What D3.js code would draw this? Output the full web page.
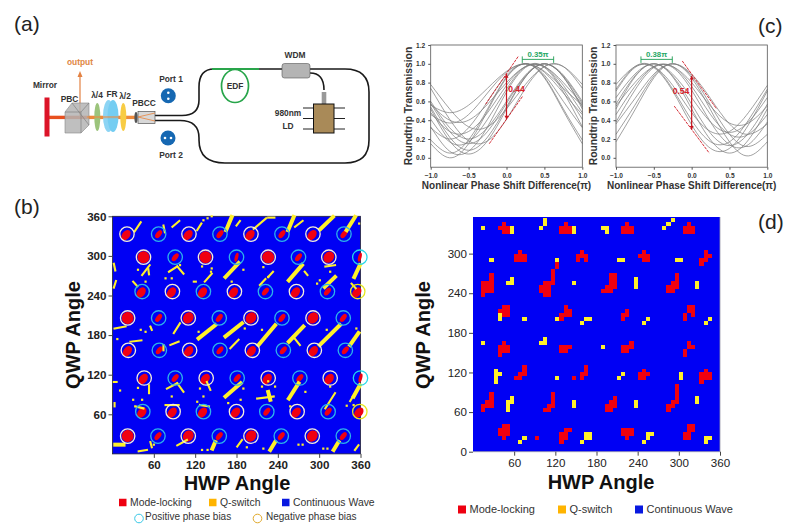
<!DOCTYPE html>
<html><head><meta charset="utf-8">
<script src="https://cdn.jsdelivr.net/npm/d3@7"></script>
<style>html,body{margin:0;padding:0;background:#fff}svg{display:block}text{font-family:"Liberation Sans",Arial,sans-serif}</style>
</head><body><div id="c"></div>
<script>
// ---- panel (c) curves: transmission read at these phase differences
const phaseSamples=[-1,-.75,-.5,-.25,0,.25,.5,.75,1];
const leftCurves=[
[.15,0,.15,.5,.85,1,.85,.5,.15],[.19,.05,.19,.52,.86,1,.86,.52,.19],[.33,.07,.07,.33,.7,.96,.96,.7,.33],
[.52,.18,.04,.18,.52,.86,1,.86,.52],[.32,.2,.32,.6,.88,1,.88,.6,.32],[.41,.17,.17,.41,.73,.97,.97,.73,.41],
[.58,.28,.15,.28,.58,.87,1,.87,.58],[.48,.28,.28,.48,.77,.97,.97,.77,.48],[.6,.32,.2,.32,.6,.88,1,.88,.6],
[.46,.37,.46,.69,.91,1,.91,.69,.46],[.57,.4,.4,.57,.8,.97,.97,.8,.57],[.74,.41,.18,.18,.41,.74,.97,.97,.74],
[.78,.52,.33,.33,.52,.78,.97,.97,.78],[.56,.48,.56,.74,.92,1,.92,.74,.56],[.54,.22,.08,.22,.54,.86,1,.86,.54]];
const rightCurves=[
[.17,.51,.85,1,.85,.51,.17,.02,.17],[.52,.86,1,.86,.52,.19,.05,.19,.52],[.71,.96,.96,.71,.35,.1,.1,.35,.71],
[.78,.97,.97,.77,.48,.28,.28,.48,.77],[.38,.72,.96,.96,.72,.38,.14,.14,.38],[.36,.63,.89,1,.89,.63,.36,.25,.36],
[.46,.76,.97,.97,.76,.46,.25,.25,.46],[.57,.87,1,.87,.57,.26,.13,.26,.57],[.25,.56,.87,1,.87,.56,.25,.12,.25],
[.55,.8,.97,.97,.8,.55,.37,.37,.55],[.64,.89,1,.89,.64,.38,.27,.38,.64],[.73,.97,.97,.73,.4,.17,.17,.4,.73]];
const transmissionTicks=[0,.2,.4,.6,.8,1,1.2];
const phaseTicks=[-1,-.5,0,.5,1];
// ---- panel (b) phase-bias circles: [HWP, QWP, sign, red extent]
const biasCircles=[
[21,333,'n','half'],[67,333,'p','small'],[111,333,'n','half'],[156,333,'p','small'],[201,333,'n','half'],[246,333,'p','small'],[291,333,'n','half'],[336,333,'p','small'],
[45,298,'n','full'],[91,298,'p','small'],[135,298,'n','full'],[180,298,'p','thin'],[226,298,'n','full'],[270,298,'p','small'],[314,298,'n','mostly'],[359,298,'e','thin'],
[43,246,'p','half'],[87,246,'n','half'],[132,246,'p','half'],[177,246,'n','half'],[222,246,'p','small'],[267,246,'n','half'],[312,246,'p','small'],[356,246,'y','half'],
[22,206,'n','full'],[67,206,'p','small'],[110,206,'n','mostly'],[155,206,'p','small'],[201,206,'n','mostly'],[246,206,'p','small'],[291,206,'n','mostly'],[335,206,'p','small'],
[23,157,'n','half'],[68,157,'p','small'],[112,157,'n','half'],[156,157,'p','small'],[203,157,'n','half'],[248,157,'p','small'],[293,157,'n','half'],[338,157,'p','small'],
[46,115,'n','half'],[91,115,'p','small'],[136,115,'n','half'],[181,115,'p','small'],[226,115,'n','half'],[272,115,'p','small'],[316,115,'n','half'],[360,115,'e','thin'],
[44,64,'p','half'],[88,64,'n','half'],[132,64,'p','half'],[180,64,'n','half'],[224,64,'p','small'],[268,64,'n','half'],[313,64,'p','small'],[359,64,'y','half'],
[22,27,'n','full'],[66,27,'p','small'],[110,27,'n','mostly'],[155,27,'p','small'],[201,27,'n','mostly'],[245,27,'p','small'],[290,27,'n','mostly'],[335,27,'p','small']];
// ---- panel (b) Q-switch streaks and isolated cells, in degrees
const thickStreaks=[[165,339,173,359],[255,339,263,359],[302,341,320,359],[340,339,352,359],
[164,268,183,289],[256,263,275,286],[351,268,359,286],[308,253,323,268],[125,175,149,195],[164,178,188,198],[212,165,236,195],[256,170,277,193],[301,165,330,195],[345,165,357,183],
[164,87,186,107],[226,94,229,82],[256,84,270,107],[350,87,359,104],[4,14,16,14],[145,8,149,18],[229,6,236,18],[321,6,328,18]];
const thinStreaks=[[32,337,41,351],[74,346,76,336],[87,344,97,353],[123,339,129,349],[180,346,185,353],[205,341,223,357],[226,358,235,358],[265,344,276,353],
[2,288,4,278],[5,262,2,252],[54,286,43,271],[52,280,53,272],[30,261,36,254],[82,276,94,284],[94,284,103,273],[118,261,121,261],[144,273,134,261],[214,256,222,265],[233,276,226,268],[279,276,283,271],[309,284,323,286],[347,258,353,251],
[3,190,19,193],[26,170,42,172],[55,193,57,188],[84,165,96,170],[89,183,98,198],[74,165,74,157],[171,160,183,173],[262,178,272,165],
[2,109,6,109],[3,77,3,72],[53,104,53,92],[33,72,45,69],[79,99,94,107],[94,107,103,94],[77,74,96,74],[137,109,142,97],[127,74,140,72],[210,84,234,87],[309,69,323,92],[349,87,345,80],
[38,4,50,6],[55,18,57,10],[94,13,108,21],[181,11,188,21],[352,6,357,13]];
const yellowDots=[[144,360],[138,357],[132,354],[358,349],[37,279],[48,261],[77,266],[86,266],[98,286],[130,284],[144,281],[143,276],[190,279],[173,261],[219,283],[226,268],[297,258],[301,263],[316,276],
[7,174],[41,188],[48,185],[125,185],[140,188],[192,190],[217,188],[311,188],[354,190],
[11,96],[37,100],[30,82],[43,82],[86,87],[123,79],[132,87],[127,99],[190,99],[217,102],[236,102],[226,110],[168,77],[186,82],[280,94],[258,72],[316,102],[340,73],[350,74],
[195,10],[219,8],[270,14],[276,14],[306,8],[312,8],[60,14],[130,6],[138,6]];
// ---- panel (d) cell runs: [QWP step, first HWP step, last HWP step]
const mapStepDeg=6;
const modeLockRuns=[[57,7,7],[56,6,8],[55,7,8],[57,22,22],[56,21,23],[55,21,23],[57,37,37],[56,36,38],[55,36,38],[57,52,52],[56,51,53],[55,51,53],
[50,11,11],[49,10,12],[48,10,12],[50,26,26],[49,25,27],[48,25,25],[48,27,27],[50,41,41],[49,40,42],[48,41,42],[50,56,56],[49,56,57],[48,55,56],[47,55,55],
[44,4,4],[43,4,4],[42,2,4],[41,2,4],[40,2,4],[39,2,2],[47,20,20],[46,20,20],[45,19,19],[44,19,19],[43,19,19],[42,17,19],[41,16,18],[40,16,18],[39,17,18],
[44,33,34],[43,33,34],[42,33,34],[41,32,34],[40,31,33],[44,49,49],[43,49,49],[42,48,49],[41,47,49],[40,47,48],
[36,7,8],[35,6,8],[34,7,8],[36,22,22],[35,22,23],[34,21,23],[33,21,21],[35,37,37],[34,36,37],[33,36,36],[36,52,53],[35,52,53],[34,51,51],[34,53,53],[33,51,51],
[27,7,7],[26,6,8],[25,6,8],[24,6,6],[26,21,23],[25,21,22],[27,38,38],[26,36,38],[25,36,37],[27,52,52],[26,52,53],[25,51,51],[24,51,51],
[21,12,12],[20,12,12],[19,11,12],[18,10,11],[21,27,27],[20,27,27],[19,26,27],[18,26,26],[18,24,24],[20,41,41],[19,40,42],[18,40,41],[20,56,56],[19,55,57],[18,55,57],[17,55,55],
[14,4,4],[13,4,4],[12,3,4],[11,2,4],[10,2,2],[14,19,19],[13,19,19],[12,19,19],[11,18,19],[10,17,18],[13,34,34],[12,33,34],[11,32,34],[10,32,33],
[16,49,49],[15,49,49],[14,49,49],[13,49,49],[12,48,49],[11,47,48],[10,47,47],
[6,7,8],[5,6,8],[4,6,8],[3,7,7],[3,15,15],[5,22,23],[4,21,22],[3,21,22],[2,21,21],[5,36,38],[4,36,38],[3,37,37],[6,52,53],[5,52,53],[4,51,52],[3,51,52]];
const qSwitchRuns=[[56,2,2],[56,9,9],[55,9,9],[58,17,17],[57,17,17],[56,16,16],[56,24,24],[55,24,24],[56,31,32],[55,32,32],[58,48,48],[57,47,47],[56,46,46],
[48,4,4],[48,20,20],[48,35,36],[48,49,50],[43,9,9],[42,8,9],[42,24,24],[43,39,39],[42,39,39],[41,39,39],[42,54,54],[41,54,54],
[34,6,6],[33,6,6],[33,12,12],[33,20,20],[33,27,28],[32,26,26],[33,42,42],[32,41,41],[33,57,57],[32,56,56],
[27,2,2],[28,17,17],[27,16,17],[26,31,31],[20,5,5],[19,5,6],[18,5,5],[17,5,5],[18,20,20],[19,36,36],[18,35,35],[19,50,50],[18,50,50],
[13,9,9],[12,8,9],[11,8,8],[10,8,8],[12,24,24],[11,24,24],[12,39,39],[11,39,39],[13,54,54],[12,54,54],
[3,12,12],[2,11,11],[4,27,28],[3,27,28],[2,26,26],[4,42,43],[3,42,42],[2,41,41],[3,56,57],[2,56,56]];
const hwpTicks=[60,120,180,240,300,360];
const qwpTicksB=[60,120,180,240,300,360];
const qwpTicksD=[0,60,120,180,240,300];
const legendStates=['Mode-locking','Q-switch','Continuous Wave'];
const legendBias=['Positive phase bias','Negative phase bias'];

const RED='#f00010',YEL='#fff02a',BLUE='#0000f4',LEG=['#ee0010','#ffb400','#0818e0'];
const svg=d3.select('#c').append('svg').attr('width',798).attr('height',528);
function txt(x,y,s,o={}){return svg.append('text').attr('x',x).attr('y',y).attr('text-anchor',o.a||'middle')
  .attr('font-size',o.f||9).attr('font-weight',o.b?'bold':'normal').attr('fill',o.c||'#222').text(s)
  .attr('transform',o.r?`rotate(${o.r} ${x} ${y})`:null);}
[['(a)',14,31],['(b)',14,214],['(c)',758,33],['(d)',758,229]].forEach(d=>txt(d[1],d[2],d[0],{a:'start',f:21,c:'#222'}));

/* ---------- (a) schematic ---------- */
const a=svg.append('g');
const fiber=(d,c='#1a1a1a',w=1.6)=>a.append('path').attr('d',d).attr('fill','none').attr('stroke',c).attr('stroke-width',w);
fiber('M155,115.5H182Q199,115.5 199,100V87Q199,69 214,69H283');
fiber('M212,69H259','#2aa54b',2);
fiber('M310,69H345Q369,69 369,92V140Q369,163 345,163H225Q199,163 199,140V138Q199,120.5 180,120.5H155');
fiber('M310,73Q324,73 324,90');
a.append('rect').attr('x',47).attr('y',115.7).attr('width',40).attr('height',3.4).attr('fill','#e8501e');
a.append('rect').attr('x',87).attr('y',115.7).attr('width',50).attr('height',3.4).attr('fill','#ee8a3c');
a.append('rect').attr('x',44.5).attr('y',97.5).attr('width',5).attr('height',39).attr('fill','#dc1428');
fiber('M80,117V76','#e38243',1.2);
a.append('path').attr('d','M77.5,77L80,71L82.5,77Z').attr('fill','#e38243');
a.append('path').attr('d','M65,112L72,103H89V125L81,133H65Z').attr('fill','#b4b4b4').attr('fill-opacity',.85).attr('stroke','#888').attr('stroke-width',.6);
a.append('path').attr('d','M65,112H81V133M81,112L89,103M72,103L89,125').attr('fill','none').attr('stroke','#777').attr('stroke-width',.6);
a.append('ellipse').attr('cx',97.3).attr('cy',117).attr('rx',3).attr('ry',14).attr('fill','#9cc47c');
a.append('ellipse').attr('cx',108.5).attr('cy',116).attr('rx',5.5).attr('ry',16).attr('fill','#8cd4f4');
a.append('ellipse').attr('cx',113).attr('cy',116).attr('rx',5.5).attr('ry',16).attr('fill','#74cdf2');
a.append('rect').attr('x',87).attr('y',116).attr('width',50).attr('height',2.2).attr('fill','#ee8a3c').attr('fill-opacity',.55);
a.append('ellipse').attr('cx',123.3).attr('cy',117).attr('rx',3).attr('ry',14).attr('fill','#f8cc44');
a.append('rect').attr('x',138).attr('y',111.5).attr('width',17).attr('height',12).attr('fill','#d8d8d8').attr('stroke','#555').attr('stroke-width',.7);
a.append('path').attr('d','M138,117L155,113M138,117L155,121').attr('stroke','#e8843c').attr('stroke-width',.8);
a.append('ellipse').attr('cx',136).attr('cy',117.5).attr('rx',1.6).attr('ry',5.5).attr('fill','#555');
[[168.3,95.7,'v'],[168,138,'h']].forEach(p=>{a.append('circle').attr('cx',p[0]).attr('cy',p[1]).attr('r',7.5).attr('fill','#1668b2');
 [-3,3].forEach(k=>a.append('circle').attr('cx',p[0]+(p[2]=='h'?k:0)).attr('cy',p[1]+(p[2]=='v'?k:0)).attr('r',1.3).attr('fill','#fff'));});
a.append('ellipse').attr('cx',235).attr('cy',86).attr('rx',13.5).attr('ry',16.5).attr('fill','none').attr('stroke','#27a54a').attr('stroke-width',1.7);
a.append('rect').attr('x',282).attr('y',63.5).attr('width',28).attr('height',14.5).attr('rx',2.5).attr('fill','#b4b4b4').attr('stroke','#555').attr('stroke-width',.6);
a.append('rect').attr('x',321.7).attr('y',92).attr('width',4.6).attr('height',12).attr('fill','#999');
a.append('path').attr('d','M303,108H313M303,118.5H313M303,129H313M334,108H345M334,118.5H345M334,129H345').attr('stroke','#222').attr('stroke-width',1);
a.append('rect').attr('x',313.5).attr('y',104).attr('width',20.5).attr('height',29).attr('fill','#a98a58').attr('stroke','#111').attr('stroke-width',1);
[['output',80,65,'#e08744'],['Mirror',45,88,'#333'],['PBC',69.5,102,'#333'],['λ/4',97,98,'#333'],['FR',112,97,'#333'],['λ/2',125,99,'#333'],['PBCC',144,106,'#333'],
 ['Port 1',171,82,'#333'],['Port 2',171,158,'#333'],['EDF',235,89,'#333'],['WDM',295,58,'#333'],['980nm',288,116,'#333'],['LD',288,129,'#333']]
 .forEach(t=>txt(t[1],t[2],t[0],{f:8.4,b:1,c:t[3]}));

/* ---------- (c) curves ---------- */
function curvePanel(x0,x1,data,o){
  const g=svg.append('g'),x=d3.scaleLinear().domain([-1,1]).range([x0,x1]),y=d3.scaleLinear().domain([-.1,1.2]).range([167.2,45]);
  const line=d3.line().x((d,i)=>x(phaseSamples[i])).y(d=>y(d)).curve(d3.curveNatural);
  g.selectAll('path.c').data(data).join('path').attr('class','c').attr('d',line).attr('fill','none').attr('stroke','#7c7c7c').attr('stroke-opacity',.8).attr('stroke-width',.9);
  g.append('rect').attr('x',x0).attr('y',45).attr('width',x1-x0).attr('height',122.2).attr('fill','none').attr('stroke','#555').attr('stroke-width',.8);
  const ax=g.append('g').attr('transform','translate(0,167.2)').call(d3.axisBottom(x).tickValues(phaseTicks).tickSize(2.5).tickFormat(d3.format('.1f')));
  const ay=g.append('g').attr('transform',`translate(${x0},0)`).call(d3.axisLeft(y).tickValues(transmissionTicks).tickSize(2.5).tickFormat(d3.format('.1f')));
  [ax,ay].forEach(s=>{s.select('.domain').remove();s.selectAll('line').attr('stroke','#555');s.selectAll('text').attr('font-size',6.6).attr('font-weight','bold').attr('fill','#333').attr('font-family','Liberation Sans').attr('dx',null);});
  ax.selectAll('text').attr('dy','.85em');
  // bracket
  const by=y(1.047);
  g.append('path').attr('d',`M${x(o.b[0])},${by}H${x(o.b[1])}M${x(o.b[0])},${by-3}V${by+3.5}M${x(o.b[1])},${by-3}V${by+3.5}`).attr('stroke','#1f9d55').attr('stroke-width',.9).attr('fill','none');
  txt((x(o.b[0])+x(o.b[1]))/2,y(1.075),o.bt,{f:7.8,b:1,c:'#27a866'});
  // red slopes
  o.d.forEach(s=>g.append('line').attr('x1',x(s[0])).attr('y1',y(s[1])).attr('x2',x(s[2])).attr('y2',y(s[3])).attr('stroke','#d01a24').attr('stroke-width',.9).attr('stroke-dasharray','3 .9'));
  g.append('line').attr('x1',x(0)).attr('x2',x(0)).attr('y1',y(o.r[0])).attr('y2',y(o.r[1])).attr('stroke','#c8141e').attr('stroke-width',1.2);
  [[o.r[0],-1],[o.r[1],1]].forEach(p=>g.append('path').attr('d',`M${x(0)-2},${y(p[0])-p[1]*3.5}L${x(0)},${y(p[0])}L${x(0)+2},${y(p[0])-p[1]*3.5}Z`).attr('fill','#c8141e'));
  txt(o.lx,o.ly,o.lt,{f:8.6,b:1,c:'#d8202a'});
  txt(x0-19,106,'Roundtrip Transmission',{f:10.3,b:1,r:-90,c:'#333'});
  txt((x0+x1)/2,189,'Nonlinear Phase Shift Difference(π)',{f:10,b:1,c:'#333'});
}
curvePanel(430.7,582.3,leftCurves,{b:[.208,.622],bt:'0.35π',d:[[-.275,.57,.156,1.08],[-.227,.15,.213,.655]],r:[.89,.41],lx:516.5,ly:91.5,lt:'0.44'});
curvePanel(616,767.3,rightCurves,{b:[-.67,-.256],bt:'0.38π',d:[[-.124,1.03,.33,.52],[-.23,.55,.233,.05]],r:[.87,.3],lx:681,ly:94,lt:'0.54'});

/* ---------- shared heat-map frame ---------- */
function mapAxes(x,y,yt,o){
  const g=svg.append('g');
  const ax=g.append('g').attr('transform',`translate(0,${y.range()[0]})`).call(d3.axisBottom(x).tickValues(hwpTicks).tickSize(4).tickPadding(3));
  const ay=g.append('g').attr('transform',`translate(${x.range()[0]},0)`).call(d3.axisLeft(y).tickValues(yt).tickSize(4).tickPadding(2));
  [ax,ay].forEach(s=>{s.select('.domain').remove();s.selectAll('line').attr('stroke','#444');s.selectAll('text').attr('font-size',11.6).attr('font-weight',o.w).attr('fill','#222').attr('font-family','Liberation Sans');});
  return g;
}

/* ---------- (b) ---------- */
const bx=d3.scaleLinear().domain([0,360]).range([112.5,360.5]),by=d3.scaleLinear().domain([0,360]).range([453.9,216.3]);
svg.append('rect').attr('x',bx(0)).attr('y',by(360)).attr('width',bx(360)-bx(0)).attr('height',by(0)-by(360)).attr('fill',BLUE).attr('stroke','#223').attr('stroke-width',.8);
const redSize={full:[6,6,0,0],mostly:[6,5,0,0],half:[5.8,3.9,-1,1],small:[4.6,2.5,0,0],thin:[4.6,1.7,0,0]};
svg.append('g').selectAll('ellipse').data(biasCircles).join('ellipse')
 .attr('cx',d=>bx(d[0])+redSize[d[3]][2]).attr('cy',d=>by(d[1])+redSize[d[3]][3])
 .attr('rx',d=>redSize[d[3]][0]).attr('ry',d=>redSize[d[3]][1])
 .attr('transform',d=>`rotate(${d[3]=='thin'?-75:-52} ${bx(d[0])+redSize[d[3]][2]} ${by(d[1])+redSize[d[3]][3]})`).attr('fill',RED);
const drawStreaks=(data,w)=>svg.append('g').selectAll('line').data(data).join('line')
 .attr('x1',d=>bx(d[0])).attr('y1',d=>by(d[1])).attr('x2',d=>bx(d[2])).attr('y2',d=>by(d[3]))
 .attr('stroke',YEL).attr('stroke-width',w).attr('stroke-linecap','square');
drawStreaks(thickStreaks,4);drawStreaks(thinStreaks,2.1);
svg.append('g').selectAll('rect').data(yellowDots).join('rect').attr('x',d=>bx(d[0])-1.1).attr('y',d=>by(d[1])-1.1).attr('width',2.2).attr('height',2.2).attr('fill',YEL);
const ringCol={p:'#2cb4ea',n:'#f7efd8',e:'#22d8ea',y:'#e8e61e'};
svg.append('g').selectAll('circle').data(biasCircles).join('circle').attr('cx',d=>bx(d[0])).attr('cy',d=>by(d[1])).attr('r',7.2).attr('fill','none').attr('stroke',d=>ringCol[d[2]]).attr('stroke-width',1.3);
mapAxes(bx,by,qwpTicksB,{w:'bold'});
txt(237,490,'HWP Angle',{f:20,b:1,c:'#111'});
txt(80,335,'QWP Angle',{f:20,b:1,r:-90,c:'#111'});

/* ---------- (d) ---------- */
const dx=d3.scaleLinear().domain([0,360]).range([473,720]),dy=d3.scaleLinear().domain([0,360]).range([451.7,214]);
svg.append('rect').attr('x',dx(0)).attr('y',217).attr('width',dx(360)-dx(0)).attr('height',dy(0)-217).attr('fill',BLUE);
svg.append('path').attr('d',`M${dx(0)},${dy(0)}H${dx(360)}V217`).attr('fill','none').attr('stroke','#99a').attr('stroke-width',.8);
const drawRuns=(runs,c)=>svg.append('g').selectAll('rect').data(runs).join('rect')
 .attr('x',d=>dx(d[1]*mapStepDeg)).attr('y',d=>dy((d[0]+1)*mapStepDeg))
 .attr('width',d=>dx((d[2]-d[1]+1)*mapStepDeg)-dx(0)).attr('height',dy(0)-dy(mapStepDeg)).attr('fill',c).attr('shape-rendering','crispEdges');
drawRuns(modeLockRuns,RED);drawRuns(qSwitchRuns,YEL);
mapAxes(dx,dy,qwpTicksD,{w:'normal'});
txt(601,489,'HWP Angle',{f:20,b:1,c:'#111'});
txt(430,335,'QWP Angle',{f:20,b:1,r:-90,c:'#111'});

/* ---------- legends ---------- */
function stateLegend(xs,ty,f,sz){legendStates.forEach((s,i)=>{svg.append('rect').attr('x',xs[i]).attr('y',ty-sz/2-3).attr('width',sz).attr('height',sz).attr('fill',LEG[i]);
  txt(xs[i]+sz+3.5,ty,s,{a:'start',f:f,c:'#333'});});}
stateLegend([119,209,282],505.5,10.4,7.5);
stateLegend([458,558,635],512.5,11,8);
[[139,518.5,'#38c8e6',145,0],[257.5,518.5,'#e0a92a',266,1]].forEach(d=>{svg.append('circle').attr('cx',d[0]).attr('cy',d[1]).attr('r',4.3).attr('fill','none').attr('stroke',d[2]).attr('stroke-width',1);
  txt(d[3],520,legendBias[d[4]],{a:'start',f:10,c:'#333'});});
</script></body></html>
